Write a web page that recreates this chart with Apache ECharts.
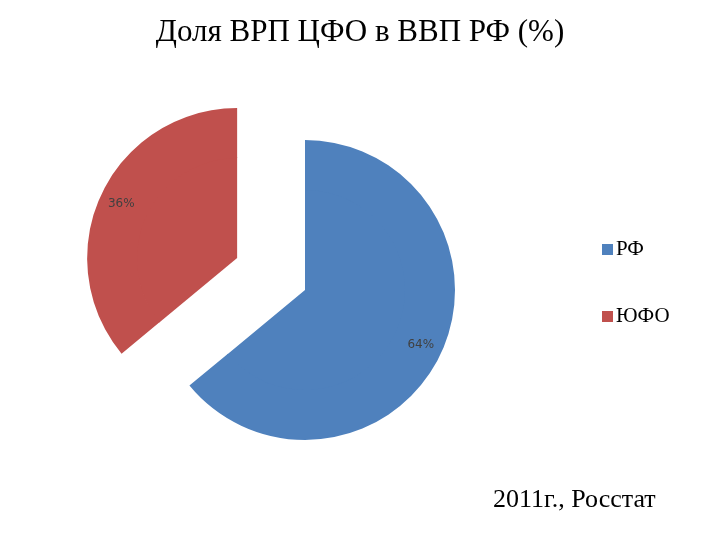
<!DOCTYPE html>
<html style="height: 100%">
<head>
    <meta charset="utf-8" />
    <title>Доля ВРП ЦФО в ВВП РФ (%)</title>
    <script src="https://cdn.jsdelivr.net/npm/echarts@6/dist/echarts.min.js"></script>
</head>
<body style="height: 100%; margin: 0; overflow: hidden; background: #fff">
    <div id="container" style="height: 540px; width: 720px"></div>
    <script>
        var names = ["РФ", "ЮФО"];
        var values = [64, 36];
        var colors = ["#4F81BD", "#C0504D"];

        var items = names.map(function (n, i) {
            return { name: n, value: values[i], selected: i === 1, itemStyle: { color: colors[i] } };
        });

        var myChart = echarts.init(document.getElementById("container"));
        var common = {
            type: "pie",
            center: [305, 290],
            startAngle: 90,
            clockwise: true,
            selectedMode: "single",
            selectedOffset: 75,
            animation: false,
            emphasis: { disabled: true },
            labelLine: { show: false }
        };
        var option = {
            title: {
                text: "Доля ВРП ЦФО в ВВП РФ (%)",
                left: "center",
                top: 12,
                textStyle: { fontFamily: "Liberation Serif", fontSize: 31, fontWeight: "normal", color: "#000" }
            },
            legend: {
                orient: "vertical",
                left: 597,
                top: 234,
                itemGap: 46,
                itemWidth: 11,
                itemHeight: 11,
                icon: "rect",
                data: names,
                textStyle: { fontFamily: "Liberation Serif", fontSize: 21, color: "#000", padding: [0, 0, 0, -2] }
            },
            graphic: [{
                type: "text",
                left: 493,
                top: 487,
                style: { text: "2011г., Росстат", font: "26px 'Liberation Serif'", fill: "#000" }
            }],
            series: [
                Object.assign({}, common, {
                    radius: [0, 101],
                    label: { show: false },
                    data: items
                }),
                Object.assign({}, common, {
                    radius: [100, 150],
                    label: {
                        show: true,
                        position: "inside",
                        formatter: "{c}%",
                        fontFamily: "DejaVu Sans",
                        fontSize: 12,
                        color: "#404040"
                    },
                    data: items
                })
            ]
        };
        myChart.setOption(option);
    </script>
</body>
</html>
